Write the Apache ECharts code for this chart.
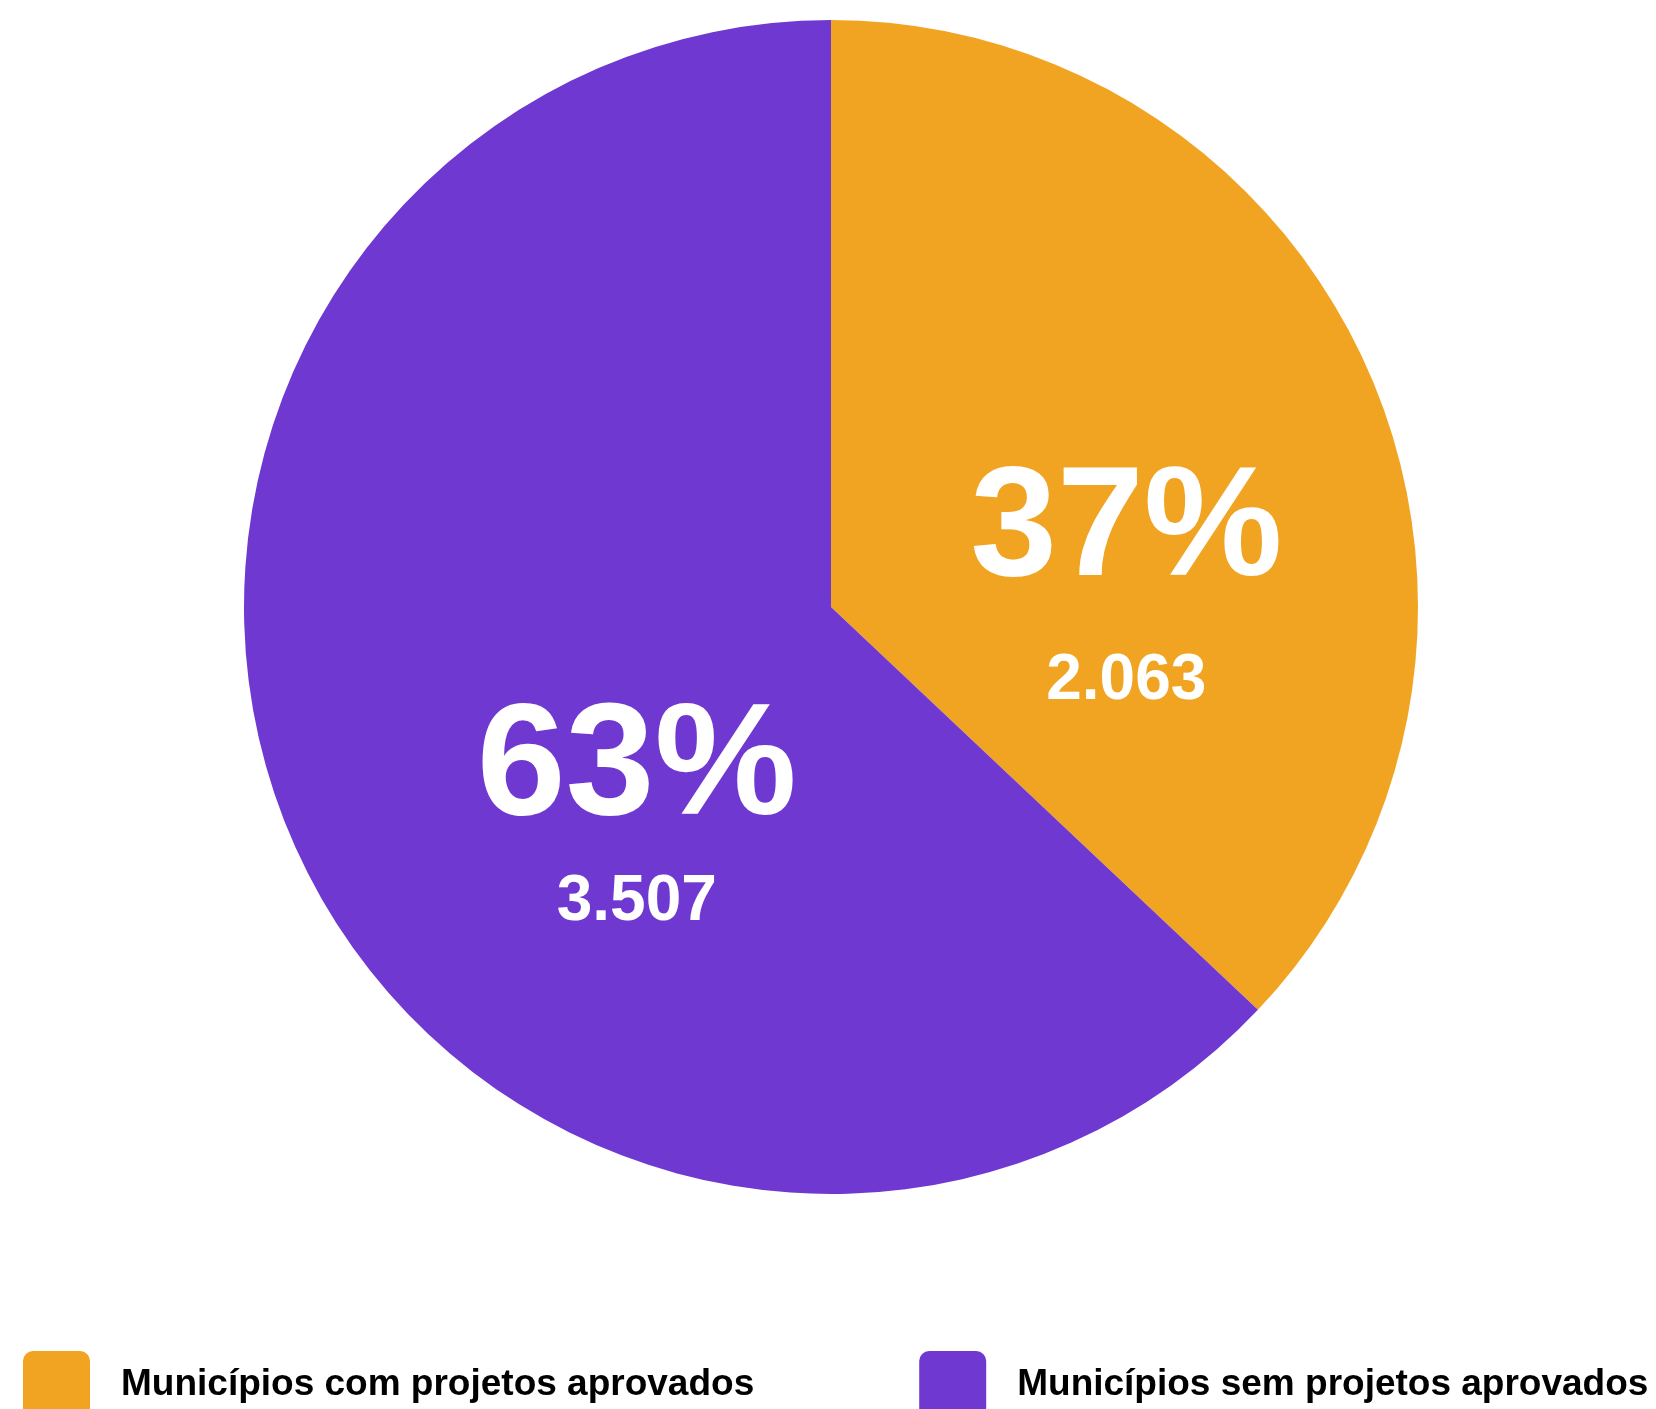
<!DOCTYPE html>
<html>
<head>
<meta charset="utf-8">
<script src="https://cdn.jsdelivr.net/npm/echarts@6/dist/echarts.min.js"></script>
<style>
  html, body { margin: 0; padding: 0; background: #ffffff; }
  #chart { width: 1656px; height: 1409px; }
</style>
</head>
<body>
<div id="chart"></div>
<script>
// Municípios com e sem projetos aprovados
const categories = ['Municípios com projetos aprovados', 'Municípios sem projetos aprovados'];
const municipios = [2063, 3507];
const sliceColors = ['#F1A322', '#6F38D1'];

// spacing between the percentage line and the count line, per slice
const percentLineHeights = [230, 195];
// nudges applied to the inside labels
const labelNudges = [[23, 77], [78, 80]];

const fontFamily = '"Liberation Sans", Arial, Helvetica, sans-serif';

function formatCount(v) {
  return String(v).replace(/\B(?=(\d{3})+(?!\d))/g, '.');
}

const pieData = categories.map(function (name, i) {
  return {
    name: name,
    value: municipios[i],
    itemStyle: { color: sliceColors[i] },
    label: {
      rich: {
        p: {
          fontSize: i === 0 ? 156 : 160, fontWeight: 'bold', color: '#ffffff',
          fontFamily: fontFamily, lineHeight: percentLineHeights[i], align: 'center'
        },
        v: {
          fontSize: 64, fontWeight: 'bold', color: '#ffffff',
          fontFamily: fontFamily, lineHeight: 70, align: 'center'
        }
      }
    }
  };
});

const chart = echarts.init(document.getElementById('chart'), null, { renderer: 'canvas' });

chart.setOption({
  animation: false,
  backgroundColor: '#ffffff',
  legend: {
    left: 23,
    top: 1351,
    padding: 0,
    itemWidth: 67,
    itemHeight: 67,
    itemGap: 165,
    icon: 'path://M10,0 H57 A10,10 0 0 1 67,10 V57 A10,10 0 0 1 57,67 H10 A10,10 0 0 1 0,57 V10 A10,10 0 0 1 10,0 Z',
    data: categories,
    selectedMode: false,
    textStyle: {
      fontFamily: fontFamily,
      fontSize: 37,
      fontWeight: 'bold',
      color: '#000000',
      padding: [10, 0, 0, 26]
    }
  },
  series: [{
    type: 'pie',
    center: [831, 607],
    radius: 587,
    startAngle: 90,
    clockwise: true,
    silent: true,
    itemStyle: { borderWidth: 0 },
    label: {
      show: true,
      position: 'inside',
      formatter: function (p) {
        return '{p|' + Math.round(p.percent) + '%}\n{v|' + formatCount(p.value) + '}';
      }
    },
    labelLine: { show: false },
    labelLayout: function (params) {
      const n = labelNudges[params.dataIndex];
      return { dx: n[0], dy: n[1] };
    },
    data: pieData
  }]
});
</script>
</body>
</html>
